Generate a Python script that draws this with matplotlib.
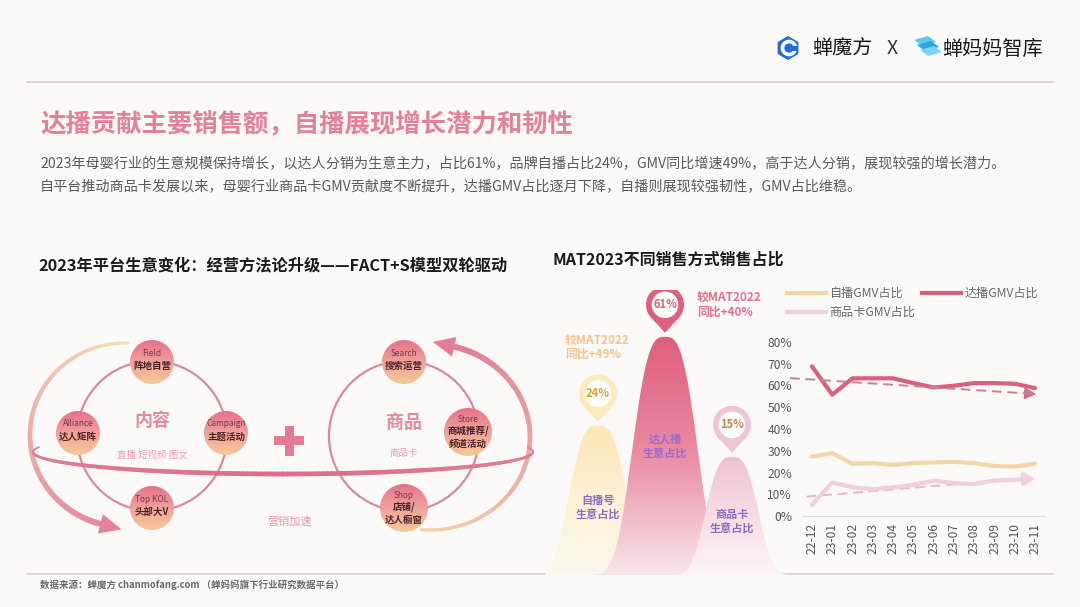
import numpy as np
import matplotlib.pyplot as plt
from matplotlib.patches import Circle, Polygon, Rectangle, RegularPolygon
from matplotlib.collections import LineCollection
from matplotlib.colors import LinearSegmentedColormap
from matplotlib.lines import Line2D
from matplotlib.ticker import PercentFormatter

plt.rcParams['font.family'] = ['Noto Sans CJK SC', 'DejaVu Sans']

# ---- data: monthly GMV share (right chart)
months = ['22-12', '23-01', '23-02', '23-03', '23-04', '23-05',
          '23-06', '23-07', '23-08', '23-09', '23-10', '23-11']
self_gmv = [0.273, 0.289, 0.240, 0.243, 0.235, 0.243, 0.246, 0.249, 0.243, 0.230, 0.227, 0.240]
kol_gmv = [0.688, 0.558, 0.633, 0.633, 0.633, 0.611, 0.591, 0.599, 0.611, 0.611, 0.608, 0.588]
card_gmv = [0.051, 0.154, 0.132, 0.123, 0.132, 0.143, 0.163, 0.151, 0.147, 0.163, 0.166, 0.174]
kol_trend = [0.634, 0.561]
card_trend = [0.089, 0.175]

# ---- data: MAT2023 share by sales channel (middle chart)
channels = ['自播号\n生意占比', '达人播\n生意占比', '商品卡\n生意占比']
shares = [24, 61, 15]
yoy_notes = ['较MAT2022\n同比+49%', '较MAT2022\n同比+40%', '']

# ---- diagram labels (left)
content_nodes = [('Field', '阵地自营'), ('Alliance', '达人矩阵'),
                 ('Campaign', '主题活动'), ('Top KOL', '头部大V')]
goods_nodes = [('Search', '搜索运营'), ('Store', '商城推荐/\n频道活动'), ('Shop', '店铺/\n达人橱窗')]

PINK = '#e4819a'

fig = plt.figure(figsize=(10.8, 6.07), dpi=100, facecolor='#fcf9f9')

# full-page layer in pixel units (y down)
ax0 = fig.add_axes([0, 0, 1, 1])
ax0.set_facecolor('none')
ax0.axis('off')


def grad_patch(ax, patch, extent, colors):
    cmap = LinearSegmentedColormap.from_list('g', colors)
    ax.add_patch(patch)
    im = ax.imshow(np.linspace(0, 1, 200)[:, None], cmap=cmap, extent=extent,
                   origin='upper', aspect='auto', interpolation='bicubic', zorder=patch.get_zorder())
    im.set_clip_path(patch)
    return im


def arc_pts(cx, cy, rx, ry, t0, t1, n=120):
    t = np.radians(np.linspace(t0, t1, n))
    return np.column_stack([cx + rx * np.cos(t), cy + ry * np.sin(t)])


def grad_line(ax, pts, colors, widths, z=3):
    segs = np.stack([pts[:-1], pts[1:]], axis=1)
    cmap = LinearSegmentedColormap.from_list('l', colors)
    lc = LineCollection(segs, colors=cmap(np.linspace(0, 1, len(segs))),
                        linewidths=widths, capstyle='round', zorder=z)
    ax.add_collection(lc)


def arrow_head(ax, tip_from, direction, color, length=20, half=9, z=4):
    d = np.array(direction, float)
    d /= np.hypot(*d)
    nrm = np.array([-d[1], d[0]])
    base = np.array(tip_from)
    tip = base + d * length
    ax.add_patch(Polygon([base + nrm * half, tip, base - nrm * half], closed=True,
                         facecolor=color, edgecolor='none', zorder=z))


# ---- header
ax0.add_patch(RegularPolygon((788, 48), 6, radius=12, orientation=0, facecolor='#1e6fd9', edgecolor='none'))
ax0.add_patch(Circle((789, 48), 6.5, facecolor='none', edgecolor='white', lw=2.6))
ax0.add_patch(Rectangle((789, 45.5), 9, 5, facecolor='#1e6fd9', edgecolor='none'))
ax0.text(812, 49, '蝉魔方', fontsize=14.5, color='#1a1a1a', va='center', ha='left')
ax0.text(892, 49, 'X', fontsize=14, color='#333333', va='center', ha='center')
for k, c in enumerate(['#5fc7ef', '#2aa7e4', '#7fd3f2']):
    ax0.add_patch(Polygon([(914 + k * 3, 40 + k * 5), (928 + k * 3, 36 + k * 5),
                           (936 + k * 3, 42 + k * 5), (922 + k * 3, 46 + k * 5)],
                          closed=True, facecolor=c, edgecolor='none'))
ax0.text(942, 49, '蝉妈妈智库', fontsize=14.5, color='#1a1a1a', va='center', ha='left')
ax0.plot([27, 1053], [82, 82], color='#efc8d1', lw=1.3)

ax0.text(40, 124, '达播贡献主要销售额，自播展现增长潜力和韧性', fontsize=18.3, fontweight='bold',
         color=PINK, va='center', ha='left')
ax0.text(40, 164, '2023年母婴行业的生意规模保持增长，以达人分销为生意主力，占比61%，品牌自播占比24%，'
         'GMV同比增速49%，高于达人分销，展现较强的增长潜力。',
         fontsize=10.15, color='#5a5a5a', va='center', ha='left')
ax0.text(40, 187, '自平台推动商品卡发展以来，母婴行业商品卡GMV贡献度不断提升，达播GMV占比逐月下降，'
         '自播则展现较强韧性，GMV占比维稳。',
         fontsize=10.15, color='#5a5a5a', va='center', ha='left')

# ---- section titles
ax0.text(38, 265, '2023年平台生意变化：经营方法论升级——FACT+S模型双轮驱动', fontsize=11.7,
         fontweight='bold', color='#1a1a1a', va='center', ha='left')
ax0.text(552, 260, 'MAT2023不同销售方式销售占比', fontsize=11.5, fontweight='bold',
         color='#1a1a1a', va='center', ha='left')

# ---- footer
ax0.plot([27, 1053], [574, 574], color='#dccfd2', lw=1.2)
ax0.text(40, 585, '数据来源：蝉魔方 chanmofang.com （蝉妈妈旗下行业研究数据平台）', fontsize=6.8,
         fontweight='bold', color='#6a6a6a', va='center', ha='left')

# ---- left diagram: FACT + S wheels
lc_pos = (152, 436)
rc_pos = (404, 436)
ring_r = 75
for c in (lc_pos, rc_pos):
    ax0.add_patch(Circle(c, ring_r, facecolor='none', edgecolor='#d98aa0', lw=1.6, zorder=2))

# big curved arrows
grad_line(ax0, arc_pts(125, 435, 95, 92, -88, -255), ['#f7dcb8', '#e58aa1'],
          np.linspace(2.2, 4.2, 119))
arrow_head(ax0, arc_pts(125, 435, 95, 92, -255, -255, 1)[0], (92, 24), '#e4829b', length=22, half=10)
grad_line(ax0, arc_pts(430, 437, 100, 93, 95, -76), ['#f5d4b0', '#e27e97'],
          np.linspace(2.2, 4.2, 119))
arrow_head(ax0, arc_pts(430, 437, 100, 93, -76, -76, 1)[0], (-98, -22), '#e27e97', length=22, half=10)

# orbit band
band = arc_pts(283, 452, 250, 22, -12, 193, 200)
w = 1.0 + 2.4 * np.sin(np.linspace(0, np.pi, 199))
grad_line(ax0, band, ['#e3849b', '#dc6e89', '#e3849b'], w, z=5)

node_cols = ['#e7718b', '#f0a29a', '#f6c998']
node_r = 22
left_xy = [(152, 362), (78, 433), (226, 433), (152, 508)]
right_xy = [(404, 362), (468, 432), (404, 508)]
for nodes, xy in ((content_nodes, left_xy), (goods_nodes, right_xy)):
    for (en, cn), (x, y) in zip(nodes, xy):
        r = node_r + (2 if '\n' in cn else 0)
        circ = Circle((x, y), r, facecolor='none', edgecolor='none', zorder=6)
        grad_patch(ax0, circ, (x - r, x + r, y + r, y - r), node_cols)
        nl = cn.count('\n')
        ax0.text(x, y - 9 - nl * 4, en, fontsize=6, color='#7a3a4a', ha='center', va='center', zorder=7)
        ax0.text(x, y + 4 + (1 if nl else 0), cn, fontsize=6.8, fontweight='bold', color='#4a2228',
                 ha='center', va='center', linespacing=1.3, zorder=7)

ax0.text(152, 421, '内容', fontsize=13, fontweight='bold', color='#e38aa0', ha='center', va='center')
ax0.text(152, 455, '直播 短视频 图文', fontsize=6.8, color='#e79db0', ha='center', va='center')
ax0.text(404, 423, '商品', fontsize=13, fontweight='bold', color='#e38aa0', ha='center', va='center')
ax0.text(404, 453, '商品卡', fontsize=6.8, color='#e79db0', ha='center', va='center')
ax0.text(290, 522, '营销加速', fontsize=8, color='#e596aa', ha='center', va='center')
ax0.add_patch(Rectangle((274, 436), 30, 9, facecolor='#e57a92', edgecolor='none'))
ax0.add_patch(Rectangle((284.5, 425.5), 9, 30, facecolor='#e57a92', edgecolor='none'))

ax0.set_xlim(0, 1080)
ax0.set_ylim(607, 0)

# ---- middle chart: mountains (pixel-sized units, y up, base at 575 px)
axm = fig.add_axes([545 / 1080, 32 / 607, 245 / 1080, 285 / 607])
axm.axis('off')
axm.set_facecolor('none')
centers = [598, 665, 732]
widths = [34, 38, 31]
bell_cols = [['#fbe6b3', '#fdf1d6', '#fdf8f0'],
             ['#e05e7d', '#ea8ca4', '#f9e6eb'],
             ['#efc3d1', '#f6dde5', '#fdf5f7']]
pin_cols = ['#fcecbc', '#df5f7d', '#eec6d3']
val_cols = ['#d9a321', '#d9607f', '#b58a56']
lab_cols = ['#8d6cc6', '#9c6bcf', '#8d6cc6']
note_cols = ['#f2c48f', '#e07090', '#e07090']
peaks = [30.5 * np.sqrt(v) for v in shares]
xs = np.linspace(545, 790, 500)
for i, (cx, wd, h) in enumerate(zip(centers, widths, peaks)):
    y = h * np.exp(-np.abs((xs - cx) / wd) ** 3)
    y[y < 0.4] = 0
    poly = Polygon(np.column_stack([np.r_[xs, xs[::-1]], np.r_[y, np.zeros_like(y)]]),
                   closed=True, facecolor='none', edgecolor='none', zorder=2 + i)
    grad_patch(axm, poly, (545, 790, 0, h), bell_cols[i])
    axm.text(cx, h * 0.45 if i != 1 else h * 0.54, channels[i], fontsize=8, fontweight='bold',
             color=lab_cols[i], ha='center', va='center', linespacing=1.25, zorder=8)
    # map pin
    pc = h + 32
    R = 19
    axm.add_patch(Polygon([(cx - 0.75 * R, pc - 0.65 * R), (cx, h + 4), (cx + 0.75 * R, pc - 0.65 * R)],
                          closed=True, facecolor=pin_cols[i], edgecolor='none', zorder=9))
    axm.add_patch(Circle((cx, pc), R, facecolor=pin_cols[i], edgecolor='none', zorder=9))
    axm.add_patch(Circle((cx, pc), R * 0.7, facecolor='white', edgecolor='none', zorder=10))
    axm.text(cx, pc, f'{shares[i]}%', fontsize=8, fontweight='bold', color=val_cols[i],
             ha='center', va='center', zorder=11)
    if yoy_notes[i]:
        nx = cx - 33 if i == 0 else cx + 32
        axm.text(nx, pc + 46 if i == 0 else pc, yoy_notes[i], fontsize=8.5, fontweight='bold',
                 color=note_cols[i], ha='left', va='center', linespacing=1.1, zorder=11)
axm.set_xlim(545, 790)
axm.set_ylim(0, 285)

# ---- right chart: monthly lines
ax = fig.add_axes([803 / 1080, 91 / 607, 242 / 1080, 174 / 607])
ax.set_facecolor('none')
x = np.arange(len(months))
ax.plot(x, self_gmv, color='#f4d6ab', lw=3, solid_capstyle='round', zorder=3)
ax.plot(x, kol_gmv, color='#d9607f', lw=3, solid_capstyle='round', zorder=4)
ax.plot(x[:-1], card_gmv[:-1], color='#f0d0dc', lw=3, solid_capstyle='round', zorder=3)
ax.annotate('', xy=(x[-1] + 0.15, card_gmv[-1]), xytext=(x[-2], card_gmv[-2]),
            arrowprops=dict(arrowstyle='-|>,head_length=0.6,head_width=0.35', color='#f0d0dc', lw=3))
ax.plot([-1.08, 11.0], kol_trend, color='#c98199', lw=1.4, ls=(0, (5, 3)), clip_on=False, zorder=5)
ax.annotate('', xy=(11.2, kol_trend[1] - 0.002), xytext=(10.6, kol_trend[1] + 0.002),
            arrowprops=dict(arrowstyle='-|>,head_length=0.7,head_width=0.35', color='#d46e8c', lw=1.2))
ax.plot([-0.26, 10.8], card_trend, color='#eab7c8', lw=1.4, ls=(0, (5, 3)), zorder=2)
ax.set_xlim(-0.44, 11.49)
ax.set_ylim(0, 0.8)
ax.set_yticks(np.arange(0, 0.81, 0.1))
ax.yaxis.set_major_formatter(PercentFormatter(1.0, decimals=0))
ax.set_xticks(x)
ax.set_xticklabels(months, rotation=90)
ax.tick_params(axis='both', length=0, labelsize=8.7, labelcolor='#555555')
ax.tick_params(axis='y', pad=8)
ax.tick_params(axis='x', pad=5)
for s in ('left', 'right', 'top'):
    ax.spines[s].set_visible(False)
ax.spines['bottom'].set_color('#dddddd')

handles = [Line2D([], [], color='#f4d6ab', lw=3), Line2D([], [], color='#f0d0dc', lw=3),
           Line2D([], [], color='#d9607f', lw=3)]
fig.legend(handles, ['自播GMV占比', '商品卡GMV占比', '达播GMV占比'], ncol=2, frameon=False,
           loc='upper left', bbox_to_anchor=(776 / 1080, 1 - 276 / 607), fontsize=8.7,
           handlelength=3.2, handletextpad=0.3, columnspacing=0.6, labelspacing=0.5,
           labelcolor='#666666')

fig.savefig('out.png', dpi=100, facecolor=fig.get_facecolor())
